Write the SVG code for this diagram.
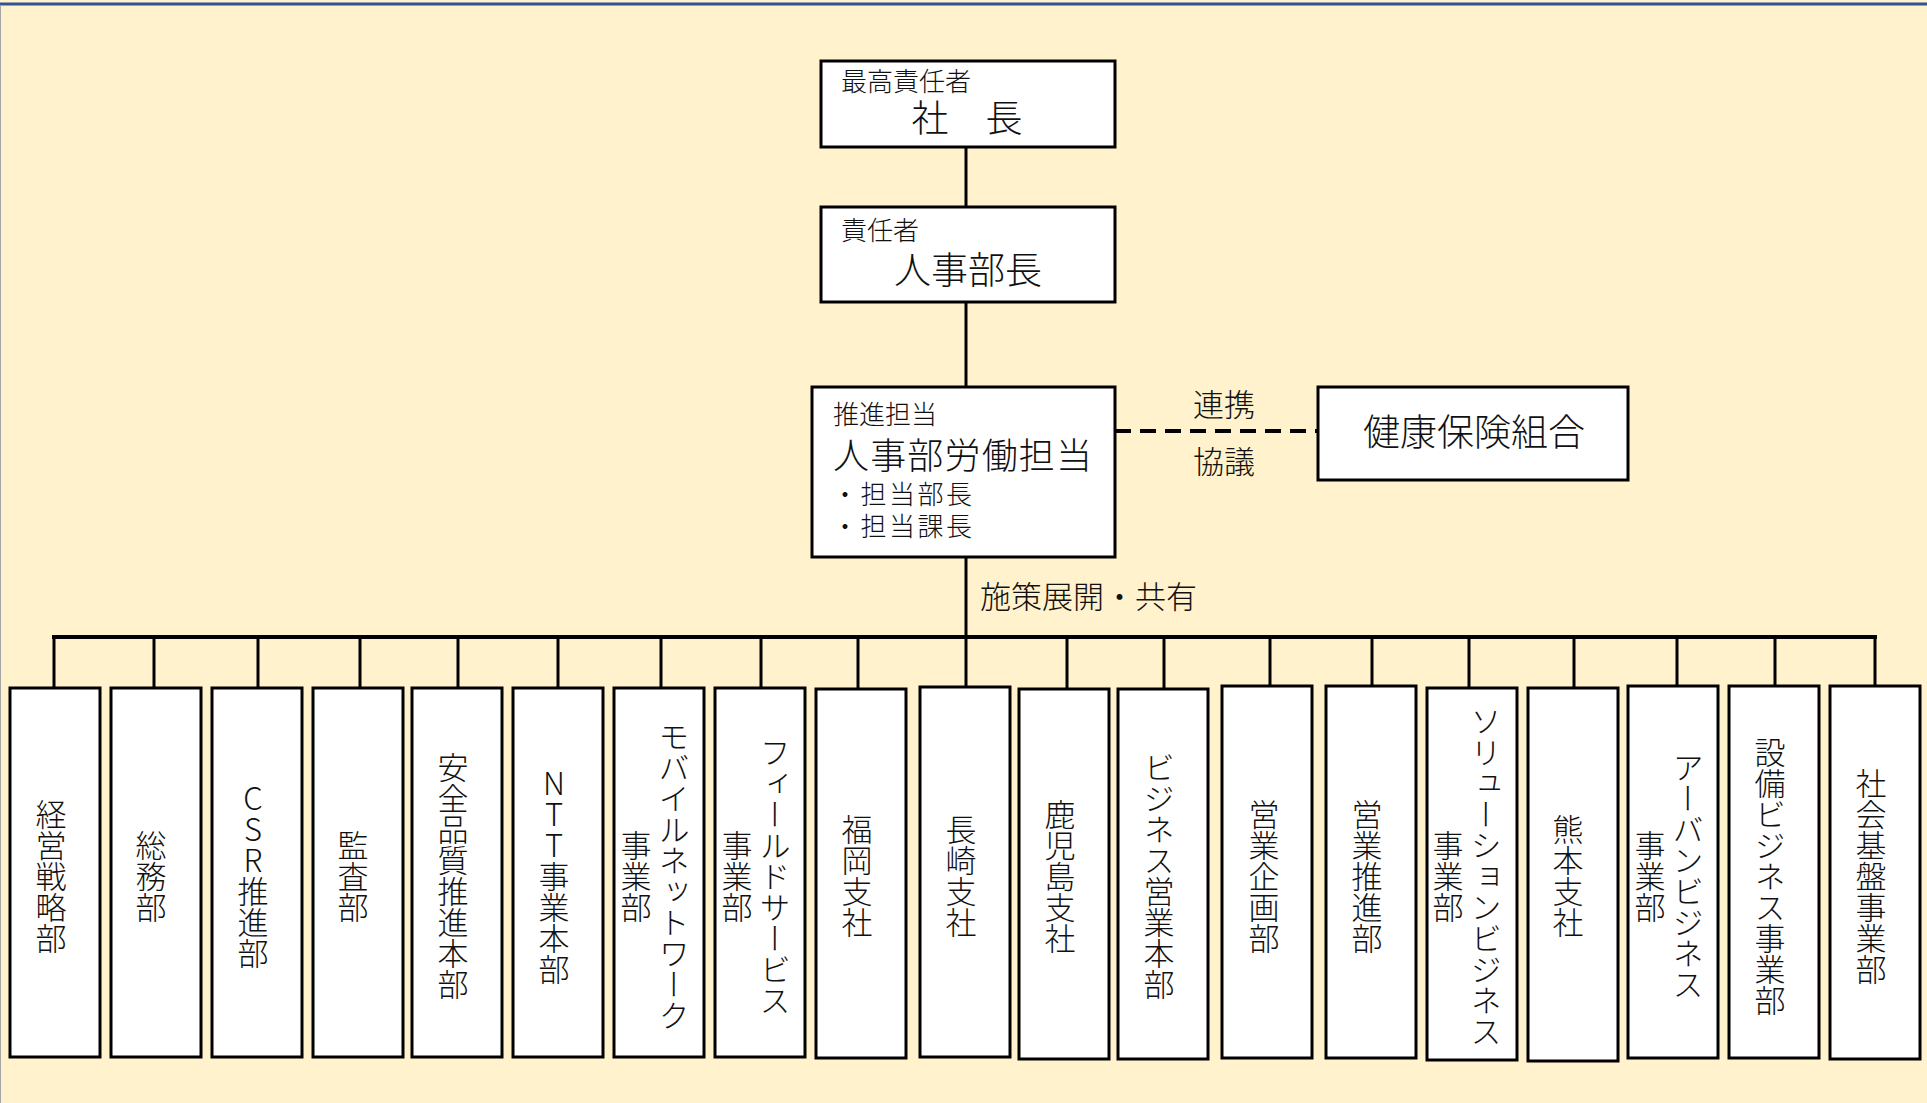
<svg xmlns="http://www.w3.org/2000/svg" width="1927" height="1103" viewBox="0 0 1927 1103">
<style>
.box{fill:#fff;stroke:#000;stroke-width:3}
.ln{stroke:#000;stroke-width:3;fill:none}
.t{font-family:"Noto Sans CJK JP","Noto Sans CJK SC",sans-serif;font-weight:300;fill:#111}
.s{font-size:26px}
.m{font-size:31px}
.b{font-size:37px}
.bc{font-size:36px}
.v{font-family:"Noto Sans CJK JP","Noto Sans CJK SC",sans-serif;font-weight:300;fill:#111;font-size:31px;writing-mode:vertical-rl;text-orientation:upright;text-anchor:middle}
</style>
<rect x="0" y="0" width="1927" height="1103" fill="#FFF2CC"/>
<line x1="0" y1="4" x2="1927" y2="4" stroke="#2F5496" stroke-width="3"/>
<line x1="0.5" y1="5" x2="0.5" y2="1103" stroke="#A6A6A6" stroke-width="1"/>

<g id="connectors">
<line class="ln" x1="966" y1="147" x2="966" y2="207"/>
<line class="ln" x1="966" y1="302" x2="966" y2="387"/>
<line class="ln" x1="966" y1="557" x2="966" y2="637"/>
<line x1="1115" y1="431" x2="1318" y2="431" stroke="#000" stroke-width="4" stroke-dasharray="16 9"/>
<line x1="52" y1="637" x2="1877" y2="637" stroke="#000" stroke-width="4"/>
<g class="ln">
<line x1="54" y1="637" x2="54" y2="688"/>
<line x1="154" y1="637" x2="154" y2="688"/>
<line x1="258" y1="637" x2="258" y2="688"/>
<line x1="360" y1="637" x2="360" y2="688"/>
<line x1="458" y1="637" x2="458" y2="688"/>
<line x1="558" y1="637" x2="558" y2="688"/>
<line x1="661" y1="637" x2="661" y2="688"/>
<line x1="761" y1="637" x2="761" y2="688"/>
<line x1="858" y1="637" x2="858" y2="688"/>
<line x1="966" y1="637" x2="966" y2="687"/>
<line x1="1067" y1="637" x2="1067" y2="688"/>
<line x1="1164" y1="637" x2="1164" y2="688"/>
<line x1="1270" y1="637" x2="1270" y2="686"/>
<line x1="1372" y1="637" x2="1372" y2="686"/>
<line x1="1469" y1="637" x2="1469" y2="688"/>
<line x1="1574" y1="637" x2="1574" y2="688"/>
<line x1="1677" y1="637" x2="1677" y2="686"/>
<line x1="1775" y1="637" x2="1775" y2="686"/>
<line x1="1875" y1="637" x2="1875" y2="686"/>
</g>
<text class="t m" x="1224" y="416" text-anchor="middle">連携</text>
<text class="t m" x="1224" y="473" text-anchor="middle">協議</text>
<text class="t m" x="980" y="608">施策展開・共有</text>
</g>

<g id="president">
<rect class="box" x="821" y="61" width="294" height="86"/>
<text class="t s" x="841" y="91">最高責任者</text>
<text class="t b" x="967" y="132" text-anchor="middle">社　長</text>
</g>
<g id="hr-director">
<rect class="box" x="821" y="207" width="294" height="95"/>
<text class="t s" x="841" y="240">責任者</text>
<text class="t b" x="968" y="284" text-anchor="middle">人事部長</text>
</g>
<g id="hr-labor">
<rect class="box" x="812" y="387" width="303" height="170"/>
<text class="t s" x="833" y="424">推進担当</text>
<text class="t bc" x="833" y="469" textLength="259">人事部労働担当</text>
<text class="t s" x="832" y="504" textLength="140">・担当部長</text>
<text class="t s" x="832" y="536" textLength="140">・担当課長</text>
</g>
<g id="health-insurance">
<rect class="box" x="1318" y="387" width="310" height="93"/>
<text class="t b" x="1474" y="446" text-anchor="middle">健康保険組合</text>
</g>

<g id="d01"><rect class="box" x="10" y="688" width="90" height="369"/><text class="v" x="51" y="876">経営戦略部</text></g>
<g id="d02"><rect class="box" x="111" y="688" width="90" height="369"/><text class="v" x="151" y="876">総務部</text></g>
<g id="d03"><rect class="box" x="212" y="688" width="90" height="369"/><text class="v" x="253" y="876">CSR推進部</text></g>
<g id="d04"><rect class="box" x="313" y="688" width="90" height="369"/><text class="v" x="353" y="876">監査部</text></g>
<g id="d05"><rect class="box" x="412" y="688" width="90" height="369"/><text class="v" x="453" y="876">安全品質推進本部</text></g>
<g id="d06"><rect class="box" x="513" y="688" width="90" height="369"/><text class="v" x="554" y="876">NTT事業本部</text></g>
<g id="d07"><rect class="box" x="614" y="688" width="90" height="369"/><text class="v" x="674" y="876">モバイルネットワーク</text><text class="v" x="636" y="876">事業部</text></g>
<g id="d08"><rect class="box" x="715" y="688" width="90" height="369"/><text class="v" x="775" y="876">フィールドサービス</text><text class="v" x="737" y="876">事業部</text></g>
<g id="d09"><rect class="box" x="816" y="689" width="90" height="369"/><text class="v" x="857" y="876">福岡支社</text></g>
<g id="d10"><rect class="box" x="920" y="687" width="90" height="370"/><text class="v" x="961" y="876">長崎支社</text></g>
<g id="d11"><rect class="box" x="1019" y="689" width="90" height="370"/><text class="v" x="1060" y="876">鹿児島支社</text></g>
<g id="d12"><rect class="box" x="1118" y="689" width="90" height="370"/><text class="v" x="1159" y="876">ビジネス営業本部</text></g>
<g id="d13"><rect class="box" x="1222" y="686" width="90" height="372"/><text class="v" x="1264" y="876">営業企画部</text></g>
<g id="d14"><rect class="box" x="1326" y="686" width="90" height="372"/><text class="v" x="1367" y="876">営業推進部</text></g>
<g id="d15"><rect class="box" x="1427" y="688" width="90" height="372"/><text class="v" x="1486" y="876">ソリューションビジネス</text><text class="v" x="1448" y="876">事業部</text></g>
<g id="d16"><rect class="box" x="1528" y="688" width="90" height="373"/><text class="v" x="1568" y="876">熊本支社</text></g>
<g id="d17"><rect class="box" x="1628" y="686" width="90" height="372"/><text class="v" x="1688" y="876">アーバンビジネス</text><text class="v" x="1650" y="876">事業部</text></g>
<g id="d18"><rect class="box" x="1729" y="686" width="90" height="372"/><text class="v" x="1770" y="876">設備ビジネス事業部</text></g>
<g id="d19"><rect class="box" x="1830" y="686" width="90" height="373"/><text class="v" x="1871" y="876">社会基盤事業部</text></g>
</svg>
